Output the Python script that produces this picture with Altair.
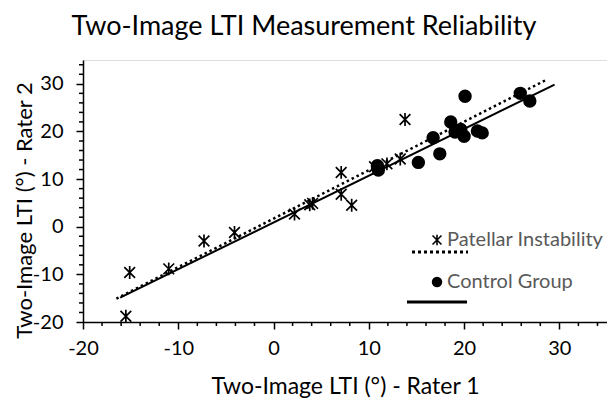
import altair as alt
import pandas as pd

# ---- data ----
pi_x = [-15.5, -15.1, -11.0, -7.3, -4.1, 2.2, 3.8, 4.1, 7.1, 7.1, 8.2, 10.6, 11.9, 13.3, 13.8]
pi_y = [-18.8, -9.6, -8.85, -3.0, -1.2, 2.65, 4.6, 4.9, 11.4, 6.8, 4.5, 12.6, 13.2, 14.2, 22.5]
cg_x = [11.0, 10.9, 15.2, 17.45, 16.75, 18.6, 19.05, 19.65, 20.0, 20.1, 21.4, 21.9, 25.9, 26.9]
cg_y = [11.9, 12.8, 13.5, 15.3, 18.7, 22.0, 19.9, 20.4, 19.0, 27.4, 20.1, 19.7, 28.0, 26.4]
pi_fit_x = [-16.5, 28.55]
pi_fit_y = [-15.1, 30.75]
cg_fit_x = [-16.1, 29.5]
cg_fit_y = [-14.9, 29.85]
major_ticks = [-20, -10, 0, 10, 20, 30]
minor_ticks = [-18, -16, -14, -12, -8, -6, -4, -2, 2, 4, 6, 8, 12, 14, 16, 18,
               22, 24, 26, 28, 32, 34]
legend_labels = ["Patellar Instability", "Control Group"]
chart_title = "Two-Image LTI Measurement Reliability"
x_title = "Two-Image LTI (°) - Rater 1"
y_title = "Two-Image LTI (°) - Rater 2"

FONT = "Lato"
STAR = "M-1,-1L1,1M-1,1L1,-1M0,-1.2L0,1.2"
DOMAIN = [-20, 35]
W, H = 524, 262

pi_df = pd.DataFrame({"x": pi_x, "y": pi_y})
cg_df = pd.DataFrame({"x": cg_x, "y": cg_y})
pi_fit = pd.DataFrame({"x": pi_fit_x, "y": pi_fit_y})
cg_fit = pd.DataFrame({"x": cg_fit_x, "y": cg_fit_y})
minor_df = pd.DataFrame({"v": minor_ticks})

label_expr = "toString(datum.value)"

x_axis = alt.Axis(
    values=major_ticks, labelExpr=label_expr, labelOverlap=False, labelFlush=False,
    tickSize=7, tickColor="black", tickWidth=1.5,
    domainColor="black", domainWidth=1.5, grid=False,
    labelFont=FONT, labelFontSize=20, labelColor="black", labelPadding=9,
    title=x_title, titleFont=FONT, titleFontSize=23, titleFontWeight="normal",
    titleColor="black", titleBaseline="alphabetic", titleY=71,
)
y_axis = alt.Axis(
    values=major_ticks, labelExpr=label_expr, labelOverlap=False, labelFlush=False,
    tickSize=7, tickColor="black", tickWidth=1.5,
    domainColor="black", domainWidth=1.5, grid=False,
    labelFont=FONT, labelFontSize=20, labelColor="black", labelPadding=13,
    title=y_title, titleFont=FONT, titleFontSize=22, titleFontWeight="normal",
    titleColor="black", titleBaseline="alphabetic", titleX=-52, titleY=150, titleAngle=-90,
)

xs = alt.Scale(domain=DOMAIN, nice=False, zero=False)
ys = alt.Scale(domain=DOMAIN, nice=False, zero=False)

pi_line = alt.Chart(pi_fit).mark_line(color="black", strokeWidth=2.5, strokeDash=[2.5, 3]).encode(
    x=alt.X("x:Q", scale=xs, axis=x_axis),
    y=alt.Y("y:Q", scale=ys, axis=y_axis),
)
cg_line = alt.Chart(cg_fit).mark_line(color="black", strokeWidth=2).encode(
    x=alt.X("x:Q", scale=xs), y=alt.Y("y:Q", scale=ys)
)
pi_pts = alt.Chart(pi_df).mark_point(shape=STAR, filled=False, stroke="black", strokeWidth=1.7, size=115, opacity=1).encode(
    x=alt.X("x:Q", scale=xs), y=alt.Y("y:Q", scale=ys)
)
cg_pts = alt.Chart(cg_df).mark_point(shape="circle", filled=True, fill="black", stroke="black", size=130, opacity=1).encode(
    x=alt.X("x:Q", scale=xs), y=alt.Y("y:Q", scale=ys)
)

# minor ticks (every 2 units), placed through the shared scales
x_minor = alt.Chart(minor_df).mark_rule(color="black", strokeWidth=1.5).encode(
    x=alt.X("v:Q", scale=xs), y=alt.value(H), y2=alt.value(H + 4))
y_minor = alt.Chart(minor_df).mark_rule(color="black", strokeWidth=1.5).encode(
    y=alt.Y("v:Q", scale=ys), x=alt.value(0), x2=alt.value(-4))

# title as text above the plot (centered over the whole figure like Excel)
title_df = pd.DataFrame({"t": [chart_title]})
title_mark = alt.Chart(title_df).mark_text(
    align="center", baseline="alphabetic", font=FONT, fontSize=27, color="black"
).encode(x=alt.value(221), y=alt.value(-25), text="t:N")

# ---- custom legend (Excel style) ----
one = pd.DataFrame({"label": legend_labels})
leg_pi_sym = alt.Chart(one.iloc[[0]]).mark_point(shape=STAR, filled=False, stroke="black", strokeWidth=1.6, size=80, opacity=1).encode(
    x=alt.value(354), y=alt.value(180))
leg_pi_txt = alt.Chart(one.iloc[[0]]).mark_text(align="left", baseline="middle", font=FONT, fontSize=20, color="#595959").encode(
    x=alt.value(364), y=alt.value(180), text="label:N")
leg_pi_line = alt.Chart(one.iloc[[0]]).mark_rule(color="black", strokeWidth=3, strokeDash=[3, 3]).encode(
    x=alt.value(329), x2=alt.value(385), y=alt.value(192))
leg_cg_sym = alt.Chart(one.iloc[[1]]).mark_point(shape="circle", filled=True, fill="black", size=110, opacity=1).encode(
    x=alt.value(354), y=alt.value(222))
leg_cg_txt = alt.Chart(one.iloc[[1]]).mark_text(align="left", baseline="middle", font=FONT, fontSize=20, color="#595959").encode(
    x=alt.value(364), y=alt.value(222), text="label:N")
leg_cg_line = alt.Chart(one.iloc[[1]]).mark_rule(color="black", strokeWidth=3).encode(
    x=alt.value(324), x2=alt.value(384), y=alt.value(242))

chart = alt.layer(
    pi_line, cg_line, pi_pts, cg_pts, x_minor, y_minor, title_mark,
    leg_pi_sym, leg_pi_txt, leg_pi_line, leg_cg_sym, leg_cg_txt, leg_cg_line,
).properties(
    width=W, height=H,
    autosize=alt.AutoSizeParams(type="none"),
    padding={"left": 75, "top": 52, "right": 0, "bottom": 76},
).configure_view(stroke=None).configure(background="white")

chart.save("out.html", embed_options={"renderer": "svg", "actions": False})
